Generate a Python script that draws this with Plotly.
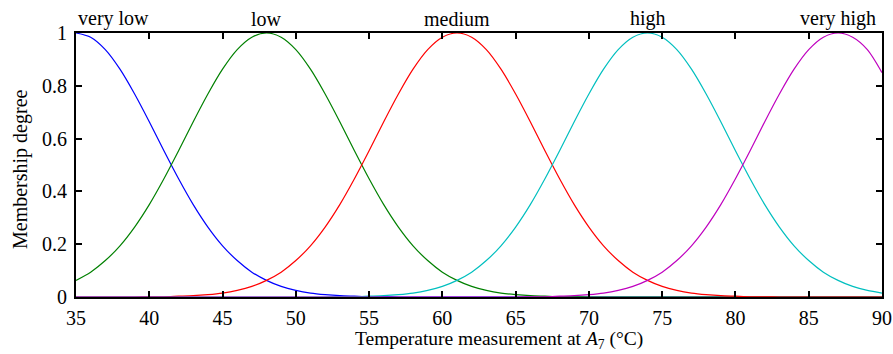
import plotly.graph_objects as go

# Temperature grid (°C)
temps = list(range(35, 91))

# Membership degrees, one value per degree from 35 to 90
very_low = [1.000, 0.984, 0.937, 0.863, 0.769, 0.664, 0.554, 0.448, 0.350, 0.265,
            0.194, 0.138, 0.094, 0.063, 0.040, 0.025, 0.015, 0.009, 0.005, 0.003,
            0.001, 0.001] + [0.0] * 34
low = [0.063, 0.094, 0.138, 0.194, 0.265, 0.350, 0.448, 0.554, 0.664, 0.769,
       0.863, 0.937, 0.984, 1.000, 0.984, 0.937, 0.863, 0.769, 0.664, 0.554,
       0.448, 0.350, 0.265, 0.194, 0.138, 0.094, 0.063, 0.040, 0.025, 0.015,
       0.009, 0.005, 0.003, 0.001, 0.001] + [0.0] * 21
medium = [0.0] * 5 + [0.001, 0.001, 0.003, 0.005, 0.009, 0.015, 0.025, 0.040, 0.063,
                      0.094, 0.138, 0.194, 0.265, 0.350, 0.448, 0.554, 0.664, 0.769,
                      0.863, 0.937, 0.984, 1.000, 0.984, 0.937, 0.863, 0.769, 0.664,
                      0.554, 0.448, 0.350, 0.265, 0.194, 0.138, 0.094, 0.063, 0.040,
                      0.025, 0.015, 0.009, 0.005, 0.003, 0.001, 0.001] + [0.0] * 8
high = [0.0] * 18 + [0.001, 0.001, 0.003, 0.005, 0.009, 0.015, 0.025, 0.040, 0.063,
                     0.094, 0.138, 0.194, 0.265, 0.350, 0.448, 0.554, 0.664, 0.769,
                     0.863, 0.937, 0.984, 1.000, 0.984, 0.937, 0.863, 0.769, 0.664,
                     0.554, 0.448, 0.350, 0.265, 0.194, 0.138, 0.094, 0.063, 0.040,
                     0.025, 0.015]
very_high = [0.0] * 31 + [0.001, 0.001, 0.003, 0.005, 0.009, 0.015, 0.025, 0.040,
                          0.063, 0.094, 0.138, 0.194, 0.265, 0.350, 0.448, 0.554,
                          0.664, 0.769, 0.863, 0.937, 0.984, 1.000, 0.984, 0.937,
                          0.850]

set_names = ["very low", "low", "medium", "high", "very high"]
set_centers = [35, 48, 61, 74, 87]
series = [very_low, low, medium, high, very_high]
colors = ["#0000ff", "#008000", "#ff0000", "#00bfbf", "#bf00bf"]

x_ticks = list(range(35, 91, 5))
y_ticks = [0, 0.2, 0.4, 0.6, 0.8, 1]
y_tick_text = ["0", "0.2", "0.4", "0.6", "0.8", "1"]

x_title = "Temperature measurement at <i>A</i><sub>7</sub> (°C)"
y_title = "Membership degree"

FONT = "Liberation Serif"
FS = 20

fig = go.Figure()
for name, vals, col in zip(set_names, series, colors):
    fig.add_trace(go.Scatter(x=temps, y=vals, mode="lines", name=name,
                             line=dict(color=col, width=1.2, shape="spline", smoothing=0.8)))

for i, (name, c) in enumerate(zip(set_names, set_centers)):
    fig.add_annotation(x=c, y=1, xref="x", yref="paper", text=name, showarrow=False,
                       xanchor="left" if i == 0 else "center", yanchor="bottom",
                       yshift=1, font=dict(family=FONT, size=FS, color="black"))

# axis titles as annotations for precise placement
fig.add_annotation(x=0.5, y=0, xref="paper", yref="paper", text=x_title, showarrow=False,
                   xanchor="center", yanchor="bottom", xshift=20, yshift=-57,
                   font=dict(family=FONT, size=19.5, color="black"))
fig.add_annotation(x=0, y=0.5, xref="paper", yref="paper", text=y_title, showarrow=False,
                   textangle=-90, xanchor="center", yanchor="middle", xshift=-56, yshift=-4,
                   font=dict(family=FONT, size=FS, color="black"))

axis_common = dict(showgrid=False, zeroline=False, showline=True, linecolor="black",
                   linewidth=2, mirror="ticks", ticks="inside", ticklen=6, tickwidth=1.5,
                   tickcolor="black", automargin=False,
                   tickfont=dict(family=FONT, size=FS, color="black"))

fig.update_xaxes(range=[35, 90], tickvals=x_ticks, ticktext=[str(t) for t in x_ticks],
                 ticklabelstandoff=2, **axis_common)
fig.update_yaxes(range=[0, 1], tickvals=y_ticks, ticktext=y_tick_text,
                 ticklabelstandoff=3, **axis_common)

fig.update_layout(width=893, height=354, margin=dict(l=76, r=11, t=33, b=57),
                  paper_bgcolor="white", plot_bgcolor="white", showlegend=False)

fig.write_html("out.html")
